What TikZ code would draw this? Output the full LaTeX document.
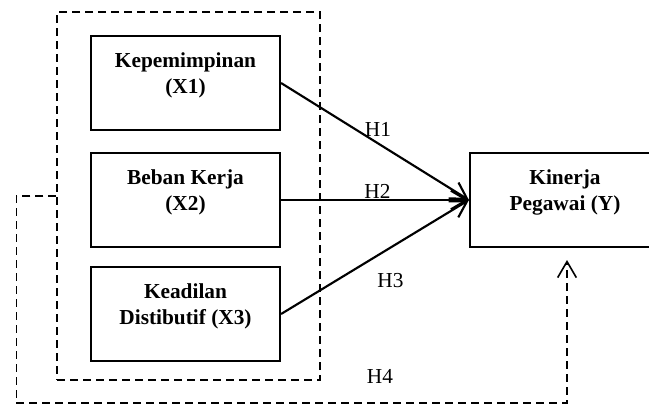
\documentclass[tikz,border=0pt]{standalone}
\usepackage{fontspec}
\setmainfont{Liberation Serif}
\usetikzlibrary{arrows.meta,positioning}

\begin{document}
\begin{tikzpicture}[x=0.75pt,y=-0.75pt,
    varbox/.style={draw, line width=1.6pt, minimum width=141.75pt, minimum height=70.5pt, inner sep=0pt},
    vartext/.style={font=\bfseries\fontsize{16}{19.5}\selectfont, align=center, inner sep=0pt},
    hyp/.style={font=\fontsize{16}{19.5}\selectfont, inner sep=0pt},
    link/.style={line width=1.6pt, -{Straight Barb[length=12pt,width=14pt]}},
    dlink/.style={line width=1.2pt, dash pattern=on 6pt off 3.75pt, -{Straight Barb[length=12pt,width=14pt]}}
  ]
    \useasboundingbox (0,0) rectangle (649,405);

    % group of X variables
    \node[draw, line width=1pt, dash pattern=on 6pt off 3.75pt, minimum width=197.25pt, minimum height=276pt, inner sep=0pt] at (188.5,196) (grp) {};

    % boxes
    \node[varbox] at (185.5,83) (x1) {};
    \node[varbox] at (185.5,200) (x2) {};
    \node[varbox] at (185.5,314) (x3) {};
    \node[varbox, minimum width=142.5pt] at (565,200) (y) {};

    % box texts
    \node[vartext, below=12.75pt of x1.north] (x1t) {Kepemimpinan\\(X1)};
    \node[vartext, below=12.75pt of x2.north] (x2t) {Beban Kerja\\(X2)};
    \node[vartext, below=12.75pt of x3.north] (x3t) {Keadilan\\Distibutif (X3)};
    \node[vartext, below=12.75pt of y.north] (yt) {Kinerja\\Pegawai (Y)};

    % labels
    \node[hyp] at (378,129) (h1) {H1};
    \node[hyp] at (377.5,191) (h2) {H2};
    \node[hyp] at (390.5,281) (h3) {H3};
    \node[hyp] at (380,376) (h4) {H4};

    % paths
    \draw[link] (x1.east) -- (y.west); % X1 -> Y
    \draw[link] (x2.east) -- (y.west); % X2 -> Y
    \draw[link] (x3.east) -- (y.west); % X3 -> Y

    \coordinate (h4end) at (567,260);
    \draw[dlink] (grp.west) -- ++(-40,0) |- (567,403) -- (h4end); % X1,X2,X3 -> Y

\end{tikzpicture}
\end{document}
